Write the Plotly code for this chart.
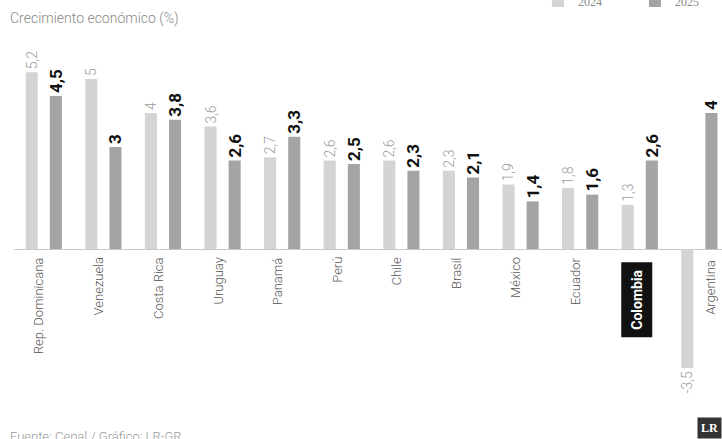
import plotly.graph_objects as go

# Crecimiento económico por país, 2024 y 2025 (%)
countries = ["Rep. Dominicana", "Venezuela", "Costa Rica", "Uruguay", "Panamá", "Perú",
             "Chile", "Brasil", "México", "Ecuador", "Colombia", "Argentina"]
growth_2024 = [5.2, 5, 4, 3.6, 2.7, 2.6, 2.6, 2.3, 1.9, 1.8, 1.3, -3.5]
growth_2025 = [4.5, 3, 3.8, 2.6, 3.3, 2.5, 2.3, 2.1, 1.4, 1.6, 2.6, 4]

FONT = "Roboto, Open Sans, sans-serif"


def fmt(v):
    s = f"{v:g}"
    return s.replace(".", ",")


fig = go.Figure()
fig.add_trace(go.Bar(
    name="2024", x=countries, y=growth_2024,
    marker=dict(color="#d4d4d4", line=dict(width=0)),
    text=[fmt(v) for v in growth_2024], textposition="outside", textangle=-90,
    constraintext="none", cliponaxis=False,
    outsidetextfont=dict(family=FONT, size=14, color="#9a9a9a", weight=300),
))
fig.add_trace(go.Bar(
    name="2025", x=countries, y=growth_2025,
    marker=dict(color="#a4a4a4", line=dict(width=0)),
    text=[fmt(v) for v in growth_2025], textposition="outside", textangle=-90,
    constraintext="none", cliponaxis=False,
    outsidetextfont=dict(family=FONT, size=17, color="#111111", weight="bold"),
))

# Country names under the zero line
annotations = []
for i, c in enumerate(countries):
    if c == "Colombia":
        annotations.append(dict(
            x=c, y=0, xref="x", yref="y", text="<b>Colombia</b>", textangle=-90,
            xanchor="center", yanchor="top", yshift=-13, xshift=-3, showarrow=False,
            bgcolor="#111111", borderpad=7,
            font=dict(family=FONT, size=14, color="#ffffff"),
        ))
    elif c == "Argentina":
        annotations.append(dict(
            x=c, y=0, xref="x", yref="y", text=c, textangle=-90,
            xanchor="center", yanchor="top", yshift=-9, xshift=11, showarrow=False,
            font=dict(family=FONT, size=13, color="#555555", weight=300),
        ))
    else:
        annotations.append(dict(
            x=c, y=0, xref="x", yref="y", text=c, textangle=-90,
            xanchor="center", yanchor="top", yshift=-6, xshift=-5, showarrow=False,
            font=dict(family=FONT, size=13, color="#555555", weight=300),
        ))

annotations += [
    dict(x=0, y=1, xref="paper", yref="paper", xanchor="left", yanchor="bottom",
         xshift=-6, yshift=11, text="Crecimiento económico (%)", showarrow=False,
         font=dict(family=FONT, size=14, color="#8a8a8a", weight=300)),
    dict(x=0, y=0, xref="paper", yref="paper", xanchor="left", yanchor="top",
         xshift=-6, yshift=-27, text="Fuente: Cepal / Gráfico: LR-GR", showarrow=False,
         font=dict(family=FONT, size=13, color="#9a9a9a", weight=300)),
    dict(x=1, y=0, xref="paper", yref="paper", xanchor="right", yanchor="top",
         xshift=0, yshift=-17, text="<b>LR</b>", showarrow=False,
         bgcolor="#333333", borderpad=3,
         font=dict(family="Liberation Serif, DejaVu Serif, serif", size=12, color="#ffffff")),
]

fig.update_layout(
    width=722, height=439,
    margin=dict(l=14, r=0, t=40, b=39, autoexpand=False),
    paper_bgcolor="#ffffff", plot_bgcolor="#ffffff",
    barmode="group", bargap=0.19, bargroupgap=0.5,
    showlegend=True,
    legend=dict(orientation="h", x=0.74, xanchor="left", y=1.108, yanchor="middle",
                entrywidth=52, entrywidthmode="pixels", itemwidth=30,
                font=dict(family="Liberation Serif, serif", size=12, color="#888888"),
                bgcolor="rgba(0,0,0,0)"),
    xaxis=dict(range=[-0.5, 11.38], showticklabels=False, showgrid=False,
               zeroline=False, showline=False, ticks=""),
    yaxis=dict(range=[-4.441, 6.147], showticklabels=False, showgrid=False,
               zeroline=True, zerolinecolor="#c8c8c8", zerolinewidth=1,
               showline=False, ticks=""),
    annotations=annotations,
)

fig.write_html("out.html")
